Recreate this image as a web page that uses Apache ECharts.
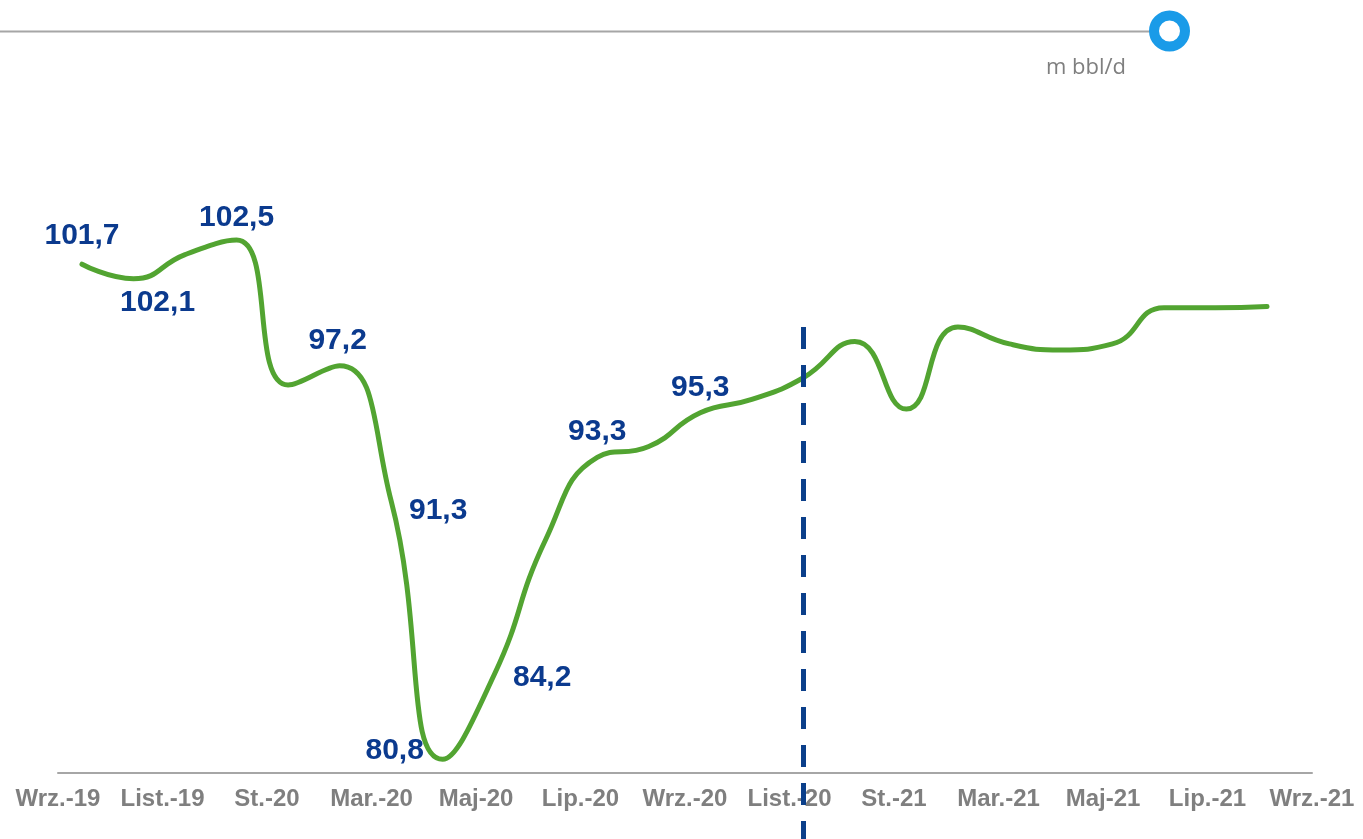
<!DOCTYPE html>
<html>
<head>
<meta charset="utf-8">
<script src="https://cdn.jsdelivr.net/npm/echarts@6/dist/echarts.min.js"></script>
<style>
html,body{margin:0;padding:0;background:#fff;}
#chart{width:1363px;height:839px;}
</style>
</head>
<body>
<div id="chart"></div>
<script>
// Axis tick labels (every second month)
const tickLabels = ['Wrz.-19','List.-19','St.-20','Mar.-20','Maj-20','Lip.-20','Wrz.-20','List.-20','St.-21','Mar.-21','Maj-21','Lip.-21','Wrz.-21'];
// Monthly demand (m bbl/d)
const demand = [101.4, 100.8, 101.8, 102.4, 96.4, 97.2, 91.6, 80.9, 84.4, 90.0, 93.4, 93.85, 95.25, 95.8, 96.7, 98.2, 95.4, 98.8, 98.1, 97.85, 98.1, 99.6, 99.6, 99.65];
// Printed value labels (null = no label)
const valueLabels = ['101,7','102,1',null,'102,5',null,'97,2','91,3','80,8','84,2',null,'93,3',null,'95,3',null,null,null,null,null,null,null,null,null,null,null];
// Forecast divider position (month index) and its top value
const forecastIndex = 14;
const forecastTop = 98.8;
const unitText = 'm bbl/d';

// label offsets (style only)
const labelOffsets = {0:[0,-28],1:[24,24],3:[0,-22],5:[-2,-25],6:[47,10],7:[-48,-9],8:[48,3],10:[0,-26],12:[0,-25]};

const yMin = 77.6, yMax = 108.2;

const seriesData = demand.map((v, i) => {
  const item = { value: [i, v] };
  if (valueLabels[i]) {
    item.label = { show: true, formatter: valueLabels[i], offset: labelOffsets[i] || [0,0] };
  }
  return item;
});

const chart = echarts.init(document.getElementById('chart'), null, {renderer:'canvas'});
chart.setOption({
  animation: false,
  backgroundColor: '#ffffff',
  title: {
    text: unitText, left: 1041, top: 52,
    textStyle: { fontFamily: 'Open Sans, Liberation Sans, Arial', fontSize: 22, fontWeight: 'normal', color: '#7f7f7f' }
  },
  graphic: [
    { type: 'line', shape: { x1: 0, y1: 31.5, x2: 1150, y2: 31.5 }, style: { stroke: '#a6a6a6', lineWidth: 2 }, z: 1 },
    { type: 'circle', shape: { cx: 1169.5, cy: 31, r: 15.5 }, style: { fill: '#ffffff', stroke: '#1a9be8', lineWidth: 10 }, z: 2 }
  ],
  grid: { left: 58, right: 51, top: 100, bottom: 0, containLabel: false, outerBoundsMode: 'none' },
  xAxis: [
    {
      type: 'category', data: tickLabels, boundaryGap: false, position: 'bottom', offset: -66,
      axisLine: { show: true, lineStyle: { color: '#a6a6a6', width: 2 } },
      axisTick: { show: false },
      axisLabel: { interval: 0, margin: 14, hideOverlap: false, fontFamily: 'Liberation Sans, Arial', fontWeight: 'bold', fontSize: 24, color: '#7f7f7f' },
      splitLine: { show: false }
    },
    {
      type: 'value', show: false, min: -0.466, max: 23.873,
      splitLine: { show: false }
    }
  ],
  yAxis: { type: 'value', show: false, min: yMin, max: yMax, splitLine: { show: false } },
  series: [{
    type: 'line',
    xAxisIndex: 1,
    data: seriesData,
    smooth: 0.5,
    symbol: 'circle',
    symbolSize: 0.1,
    showSymbol: true,
    clip: false,
    itemStyle: { color: '#52a431' },
    lineStyle: { color: '#52a431', width: 5, cap: 'round', join: 'round' },
    label: {
      show: false, position: 'inside',
      fontFamily: 'Liberation Sans, Arial', fontWeight: 'bold', fontSize: 30, color: '#0b3a8e'
    },
    emphasis: { disabled: true },
    markLine: {
      silent: true, symbol: 'none', animation: false,
      label: { show: false },
      lineStyle: { color: '#0b3f8a', width: 5, type: [22, 16], cap: 'butt' },
      data: [[ { coord: [forecastIndex, forecastTop] }, { coord: [forecastIndex, yMin] } ]]
    },
    z: 3
  }]
});
</script>
</body>
</html>
